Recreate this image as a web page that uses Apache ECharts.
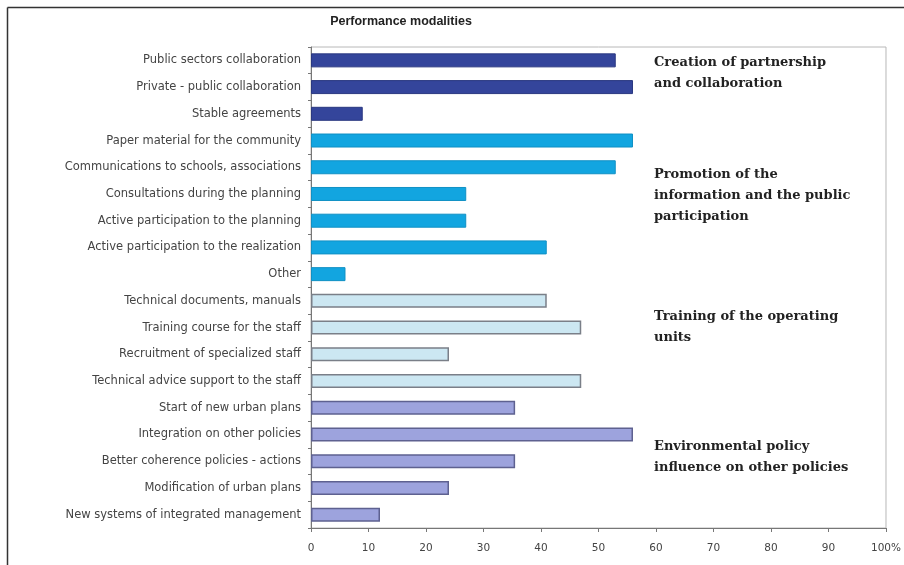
<!DOCTYPE html>
<html>
<head>
<meta charset="utf-8">
<script src="https://cdn.jsdelivr.net/npm/echarts@6/dist/echarts.min.js"></script>
<style>
html,body{margin:0;padding:0;background:#fff;}
#chart{width:904px;height:565px;}
</style>
</head>
<body>
<div id="chart"></div>
<script>
var categories = [
  "Public sectors collaboration",
  "Private - public collaboration",
  "Stable agreements",
  "Paper material for the community",
  "Communications to schools, associations",
  "Consultations during the planning",
  "Active participation to the planning",
  "Active participation to the realization",
  "Other",
  "Technical documents, manuals",
  "Training course for the staff",
  "Recruitment of specialized staff",
  "Technical advice support to the staff",
  "Start of new urban plans",
  "Integration on other policies",
  "Better coherence policies - actions",
  "Modification of urban plans",
  "New systems of integrated management"
];
var values = [53, 56, 9, 56, 53, 27, 27, 41, 6, 41, 47, 24, 47, 35.5, 56, 35.5, 24, 12];
// group index of each category
var groupOf = [0,0,0, 1,1,1,1,1,1, 2,2,2,2, 3,3,3,3,3];
var groupLabels = [
  "Creation of partnership\nand collaboration",
  "Promotion of the\ninformation and the public\nparticipation",
  "Training of the operating\nunits",
  "Environmental policy\ninfluence on other policies"
];
var xTicks = [0,10,20,30,40,50,60,70,80,90,100];
var title = "Performance modalities";

var groupStyles = [
  {color:'#34459b', borderColor:'#2a3880', borderWidth:1},
  {color:'#12a5e0', borderColor:'#1090c4', borderWidth:1},
  {color:'#cce7f2', borderColor:'#7a7f88', borderWidth:1.5},
  {color:'#9da3dd', borderColor:'#5e6190', borderWidth:1.5}
];
var groupLabelY = [52, 164, 306, 436];

var chart = echarts.init(document.getElementById('chart'));
var data = values.map(function(v,i){ return {value:v, itemStyle:groupStyles[groupOf[i]]}; });

var graphics = [
  {type:'line', shape:{x1:7.5,y1:7.5,x2:904,y2:7.5}, style:{stroke:'#333',lineWidth:1.5}},
  {type:'line', shape:{x1:7.5,y1:7.5,x2:7.5,y2:565}, style:{stroke:'#333',lineWidth:1.5}}
];
groupLabels.forEach(function(t,i){
  graphics.push({type:'text', left:654, top:groupLabelY[i], style:{
    text:t, font:'bold 13px "DejaVu Serif", serif', fill:'#222', lineHeight:21
  }});
});

chart.setOption({
  animation:false,
  backgroundColor:'#fff',
  title:{text:title, left:396, top:10, textAlign:'center',
    textStyle:{fontSize:12.5, fontWeight:'bold', color:'#222', fontFamily:'Liberation Sans, Arial, sans-serif'}},
  grid:{left:311, right:18, top:47, bottom:37, show:true, borderColor:'#b8b8b8', borderWidth:1},
  xAxis:{type:'value', min:0, max:100, interval:10,
    axisLine:{show:true, lineStyle:{color:'#777'}},
    axisTick:{show:true, length:4, lineStyle:{color:'#777'}},
    splitLine:{show:false},
    axisLabel:{color:'#444', fontSize:10.5, margin:15, fontFamily:'DejaVu Sans, sans-serif',
      formatter:function(v){ return v===100 ? '100%' : String(v); }}
  },
  yAxis:{type:'category', data:categories, inverse:true,
    axisLine:{show:true, lineStyle:{color:'#777'}},
    axisTick:{show:true, length:3, lineStyle:{color:'#777'}},
    axisLabel:{color:'#444', fontSize:11.5, margin:10, fontFamily:'DejaVu Sans, sans-serif'}
  },
  series:[{type:'bar', data:data, barWidth:14, silent:true}],
  graphic:graphics
});
</script>
</body>
</html>
